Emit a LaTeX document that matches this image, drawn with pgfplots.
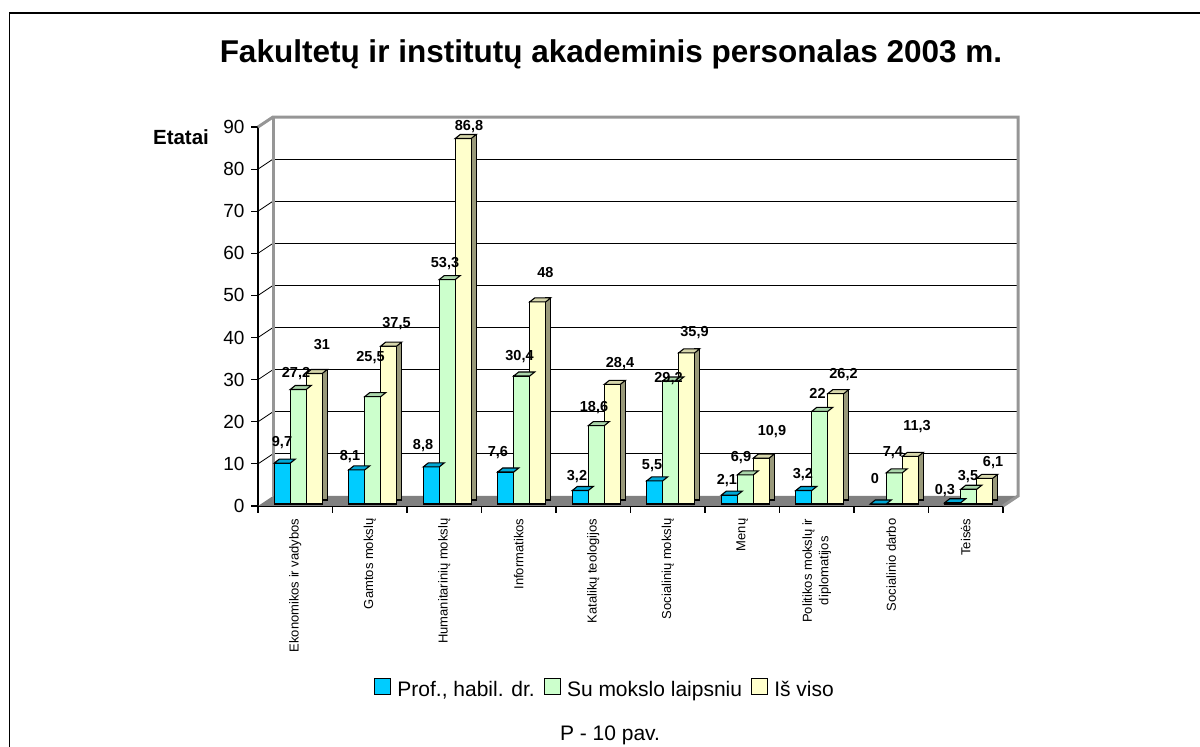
\documentclass[border=0pt]{standalone}
\usepackage{fontspec}
\setmainfont{Liberation Sans}
\usepackage{pgfplots}
\pgfplotsset{compat=1.18}
\usepackage{pgfplotstable}

\definecolor{bfront}{HTML}{00CCFF}
\definecolor{btop}{HTML}{00A8D6}
\definecolor{bside}{HTML}{007A99}
\definecolor{gfront}{HTML}{CCFFCC}
\definecolor{gtop}{HTML}{ABD6AB}
\definecolor{gside}{HTML}{7A997A}
\definecolor{yfront}{HTML}{FFFFCC}
\definecolor{ytop}{HTML}{D6D6AB}
\definecolor{yside}{HTML}{99997A}
\definecolor{floorgray}{HTML}{808080}
\definecolor{wallgray}{HTML}{969696}

\pgfdeclareplotmark{topface}{%
 \pgfpathmoveto{\pgfpoint{-8pt}{0pt}}%
 \pgfpathlineto{\pgfpoint{8pt}{0pt}}%
 \pgfpathlineto{\pgfpoint{13pt}{4pt}}%
 \pgfpathlineto{\pgfpoint{-3pt}{4pt}}%
 \pgfpathclose
 \pgfusepathqfillstroke}

\pgfplotstableread{
x a b c
0.5 9.7 27.2 31
1.5 8.1 25.5 37.5
2.5 8.8 53.3 86.8
3.5 7.6 30.4 48
4.5 3.2 18.6 28.4
5.5 5.5 29.2 35.9
6.5 2.1 6.9 10.9
7.5 3.2 22 26.2
8.5 0 7.4 11.3
9.5 0.3 3.5 6.1
}\bars

\pgfplotstableread{
x y lab
0.322 14.96 9,7
0.510 31.35 27,2
0.859 38.23 31
1.235 11.64 8,1
1.510 35.15 25,5
1.859 43.22 37,5
2.215 14.25 8,8
2.510 57.47 53,3
2.832 90.00 86,8
3.221 12.59 7,6
3.510 35.38 30,4
3.859 55.33 48
4.282 6.89 3,2
4.510 23.27 18,6
4.859 33.72 28,4
5.289 9.50 5,5
5.510 30.16 29,2
5.859 41.08 35,9
6.295 5.94 2,1
6.483 11.40 6,9
6.899 17.57 10,9
7.315 7.36 3,2
7.510 26.83 22
7.859 31.11 26,2
8.282 6.41 0
8.523 12.59 7,4
8.846 18.76 11,3
9.221 3.56 0,3
9.530 6.89 3,5
9.866 10.21 6,1
}\labels

\begin{document}
\begin{tikzpicture}
\path[use as bounding box] (0,0) rectangle (1200pt,747pt);
\begin{axis}[
 at={(258pt,241pt)}, anchor=south west,
 scale only axis, width=745pt, height=379pt,
 xmin=0, xmax=10, ymin=0, ymax=90,
 clip=false,
 axis x line*=bottom, axis y line*=left,
 axis line style={black, line width=1.2pt, -},
 tick align=outside,
 major tick length=7pt,
 xtick={0,1,...,10}, xticklabels={},
 xtick style={black, line width=1.2pt},
 extra x ticks={0.5,1.5,...,9.5},
 extra x tick labels={Ekonomikos ir vadybos, Gamtos mokslų, Humanitarinių mokslų, Informatikos, Katalikų teologijos, Socialinių mokslų, Menų, {Politikos mokslų ir\\diplomatijos}, Socialinio darbo, Teisės},
 extra x tick style={major tick length=0pt, tick style={draw=none},
   tick label style={rotate=90, anchor=east, align=center, inner ysep=0pt, inner xsep=12.5pt,
   font=\fontsize{13}{16.5}\selectfont}},
 ytick={0,10,...,90},
 ytick style={black, line width=1.2pt},
 y tick label style={font=\fontsize{19}{22}\selectfont, xshift=-3pt},
 /pgf/number format/assume math mode=true,
 legend columns=3,
 legend style={at={(0.4658,-0.4828)}, anchor=center, draw=none, fill=none,
   font=\fontsize{21}{25}\selectfont,
   /tikz/every even column/.append style={column sep=7pt}},
 legend image code/.code={\draw[#1, line width=1.2pt] (-4pt,-5pt) rectangle (12pt,11pt);},
]
% floor
\fill[floorgray] (axis cs:0,0) -- (axis cs:10,0) -- ([xshift=15pt,yshift=10pt]axis cs:10,0) -- ([xshift=15pt,yshift=10pt]axis cs:0,0) -- cycle;
% grid
\pgfplotsinvokeforeach{10,20,...,80}{
 \draw[black, line width=0.8pt] ([xshift=15pt,yshift=10pt]axis cs:0,#1) -- ([xshift=15pt,yshift=10pt]axis cs:10,#1);
 \draw[black, line width=0.8pt] (axis cs:0,#1) -- ([xshift=15pt,yshift=10pt]axis cs:0,#1);
}
% wall edges
\draw[wallgray, line width=3pt] ([xshift=15pt,yshift=10pt]axis cs:0,0) -- ([xshift=15pt,yshift=10pt]axis cs:0,90);
\draw[wallgray, line width=3pt] (axis cs:0,90) -- ([xshift=15pt,yshift=10pt]axis cs:0,90) -- ([xshift=15pt,yshift=10pt]axis cs:10,90) -- ([xshift=15pt,yshift=10pt]axis cs:10,0) -- (axis cs:10,0);

% blue series
\addplot[ybar, forget plot, bar width=5pt, bar shift=-2.5pt, yshift=6pt, fill=bside, draw=black, line width=1.1pt] table[x=x,y=a]{\bars};
\addplot[forget plot, only marks, mark=topface, xshift=-13pt, yshift=2pt, mark options={fill=btop, draw=black, line width=1.1pt}] table[x=x,y=a]{\bars};
\addplot[ybar, forget plot, bar width=16pt, bar shift=-13pt, yshift=2pt, fill=bfront, draw=black, line width=1.1pt] table[x=x,y=a]{\bars};
% green series
\addplot[ybar, forget plot, bar width=5pt, bar shift=13.5pt, yshift=6pt, fill=gside, draw=black, line width=1.1pt] table[x=x,y=b]{\bars};
\addplot[forget plot, only marks, mark=topface, xshift=3pt, yshift=2pt, mark options={fill=gtop, draw=black, line width=1.1pt}] table[x=x,y=b]{\bars};
\addplot[ybar, forget plot, bar width=16pt, bar shift=3pt, yshift=2pt, fill=gfront, draw=black, line width=1.1pt] table[x=x,y=b]{\bars};
% yellow series
\addplot[ybar, forget plot, bar width=5pt, bar shift=29.5pt, yshift=6pt, fill=yside, draw=black, line width=1.1pt] table[x=x,y=c]{\bars};
\addplot[forget plot, only marks, mark=topface, xshift=19pt, yshift=2pt, mark options={fill=ytop, draw=black, line width=1.1pt}] table[x=x,y=c]{\bars};
\addplot[ybar, forget plot, bar width=16pt, bar shift=19pt, yshift=2pt, fill=yfront, draw=black, line width=1.1pt] table[x=x,y=c]{\bars};

% data labels
\addplot[forget plot, draw=none, nodes near coords, point meta=explicit symbolic,
  every node near coord/.append style={anchor=center, inner sep=0pt, font=\bfseries\fontsize{14.5}{17}\selectfont}]
  table[x=x,y=y,meta=lab]{\labels};

\addlegendimage{fill=bfront, draw=black}
\addlegendentry{\hspace{4pt}Prof., habil. dr.}
\addlegendimage{fill=gfront, draw=black}
\addlegendentry{\hspace{4pt}Su mokslo laipsniu}
\addlegendimage{fill=yfront, draw=black}
\addlegendentry{\hspace{4pt}Iš viso}
\end{axis}
\draw[black, line width=1.5pt] (9.5pt,0pt) -- (9.5pt,734.2pt) -- (1200pt,734.2pt);
\node[font=\bfseries\fontsize{31.5}{36}\selectfont, anchor=base] at (611pt,684pt) {Fakultetų ir institutų akademinis personalas 2003 m.};
\node[font=\bfseries\fontsize{20.5}{24}\selectfont] at (181pt,610pt) {Etatai};
\node[font=\fontsize{21}{25}\selectfont, anchor=base] at (610pt,6pt) {P - 10 pav.};
\end{tikzpicture}
\end{document}
